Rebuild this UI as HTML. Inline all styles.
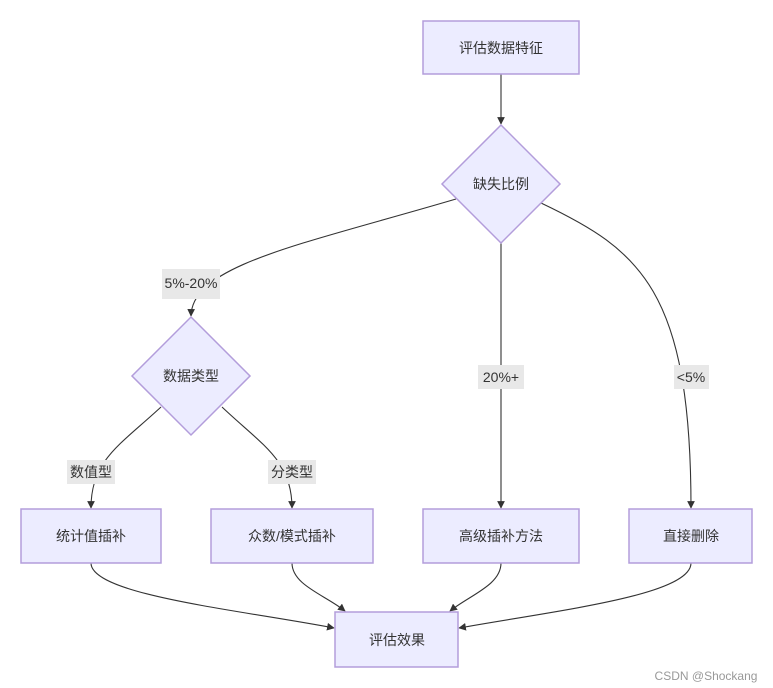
<!DOCTYPE html>
<html><head><meta charset="utf-8"><style>
html,body{margin:0;padding:0;background:#fff;width:773px;height:688px;overflow:hidden}
text{font-family:"Liberation Sans","Noto Sans CJK SC",sans-serif;font-size:14px;fill:#333;dominant-baseline:central;text-anchor:middle}
</style></head><body>
<svg width="773" height="688" viewBox="0 0 773 688" xmlns="http://www.w3.org/2000/svg">
<defs><marker id="a" viewBox="0 0 10 10" refX="9" refY="5" markerWidth="7" markerHeight="7" orient="auto"><path d="M0,0L10,5L0,10z" fill="#333"/></marker></defs>
<g fill="none" stroke="#333" stroke-width="1.1">
<path d="M501,74V124" marker-end="url(#a)"/>
<path d="M456,199C300,245 192,265 191,316" marker-end="url(#a)"/>
<path d="M501,243V508" marker-end="url(#a)"/>
<path d="M541,203C640,250 691,290 691,508" marker-end="url(#a)"/>
<path d="M161,407C120,445 91,460 91,508" marker-end="url(#a)"/>
<path d="M222,407C262,445 292,460 292,508" marker-end="url(#a)"/>
<path d="M91,563C91,595 240,610 334,628" marker-end="url(#a)"/>
<path d="M292,563C292,585 325,595 345,611" marker-end="url(#a)"/>
<path d="M501,563C501,585 470,595 450,611" marker-end="url(#a)"/>
<path d="M691,563C691,595 560,610 459,628" marker-end="url(#a)"/>
</g>
<g fill="#ececff" stroke="#b39ddb" stroke-width="1.5">
<rect x="423" y="21" width="156" height="53"/>
<path d="M501,125L560,184L501,243L442,184Z"/>
<path d="M191,317L250,376L191,435L132,376Z"/>
<rect x="21" y="509" width="140" height="54"/>
<rect x="211" y="509" width="162" height="54"/>
<rect x="423" y="509" width="156" height="54"/>
<rect x="629" y="509" width="123" height="54"/>
<rect x="335" y="612" width="123" height="55"/>
</g>
<g fill="#e8e8e8">
<rect x="162" y="269" width="58" height="30"/>
<rect x="478" y="365" width="46" height="24"/>
<rect x="674" y="365" width="35" height="24"/>
<rect x="67" y="460" width="48" height="24"/>
<rect x="268" y="460" width="48" height="24"/>
</g>
<text x="501" y="48">评估数据特征</text>
<text x="501" y="184">缺失比例</text>
<text x="191" y="376">数据类型</text>
<text x="91" y="536">统计值插补</text>
<text x="292" y="536">众数/模式插补</text>
<text x="501" y="536">高级插补方法</text>
<text x="691" y="536">直接删除</text>
<text x="397" y="640">评估效果</text>
<text x="191" y="283">5%-20%</text>
<text x="501" y="377">20%+</text>
<text x="691" y="377">&lt;5%</text>
<text x="91" y="472">数值型</text>
<text x="292" y="472">分类型</text>
<text x="706" y="676" style="font-size:12px;fill:#999">CSDN @Shockang</text>
</svg>
</body></html>
